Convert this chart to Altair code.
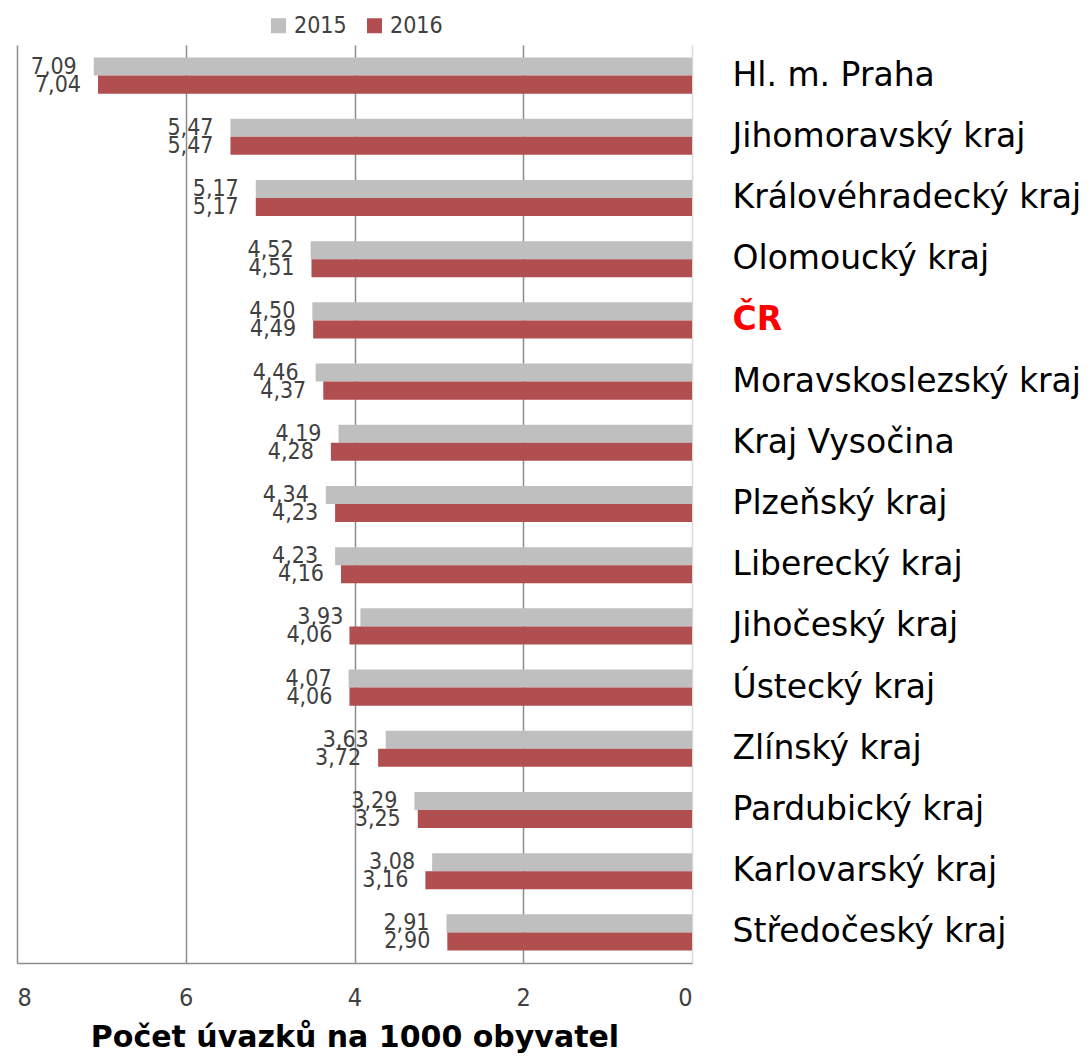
import altair as alt
import pandas as pd

regions = ["Hl. m. Praha", "Jihomoravský kraj", "Královéhradecký kraj", "Olomoucký kraj",
           "ČR", "Moravskoslezský kraj", "Kraj Vysočina", "Plzeňský kraj", "Liberecký kraj",
           "Jihočeský kraj", "Ústecký kraj", "Zlínský kraj", "Pardubický kraj",
           "Karlovarský kraj", "Středočeský kraj"]
v2015 = [7.09, 5.47, 5.17, 4.52, 4.50, 4.46, 4.19, 4.34, 4.23, 3.93, 4.07, 3.63, 3.29, 3.08, 2.91]
v2016 = [7.04, 5.47, 5.17, 4.51, 4.49, 4.37, 4.28, 4.23, 4.16, 4.06, 4.06, 3.72, 3.25, 3.16, 2.90]
years = ["2015", "2016"]
colors = ["#BFBFBF", "#B04E50"]

rows = []
for r, a, b in zip(regions, v2015, v2016):
    rows.append({"region": r, "year": years[0], "value": a})
    rows.append({"region": r, "year": years[1], "value": b})
df = pd.DataFrame(rows)

FONT = "DejaVu Sans"
COND = "DejaVu Sans Condensed"

y_enc = alt.Y("region:N", sort=regions,
              scale=alt.Scale(paddingInner=0.41, paddingOuter=0.205),
              axis=alt.Axis(orient="right", title=None, domain=False, ticks=False,
                            labelPadding=40, labelFontSize=33, labelFont=FONT,
                            labelColor={"condition": {"test": "datum.value === 'ČR'", "value": "#FF0000"}, "value": "#000000"},
                            labelFontWeight={"condition": {"test": "datum.value === 'ČR'", "value": "bold"}, "value": "normal"},
                            labelLimit=500))
yoff = alt.YOffset("year:N", sort=years, scale=alt.Scale(paddingInner=0, paddingOuter=0))
x_enc = alt.X("value:Q", scale=alt.Scale(domain=[0, 8], reverse=True, nice=False),
              axis=alt.Axis(values=[0, 2, 4, 6, 8], grid=True, tickSize=0, labelPadding=22,
                            labelFontSize=25, labelFont=COND, labelColor="#404040",
                            gridColor={"condition": {"test": "datum.value === 0", "value": "#D9D9D9"}, "value": "#8C8C8C"},
                            gridWidth=1.5, domainColor="#8C8C8C", domainWidth=1.5,
                            title="Počet úvazků na 1000 obyvatel", titleFontSize=30,
                            titleFont=FONT, titleFontWeight="bold", titleColor="#000000",
                            titlePadding=12, format="d"))

bars = alt.Chart(df).mark_bar().encode(
    x=x_enc, y=y_enc, yOffset=yoff,
    color=alt.Color("year:N", sort=years, scale=alt.Scale(domain=years, range=colors),
                    legend=alt.Legend(title=None, orient="none", direction="horizontal",
                                      legendX=250, legendY=-31, symbolType="square",
                                      symbolSize=225, symbolStrokeWidth=0, labelFontSize=23,
                                      labelFont=COND, labelColor="#404040", columnPadding=16,
                                      labelOffset=4))
)

text = alt.Chart(df).transform_calculate(
    label="replace(format(datum.value, '.2f'), '.', ',')"
).mark_text(align="right", baseline="middle", dx=-17, fontSize=23, font=COND,
            color="#404040").encode(
    x=alt.X("value:Q"), y=alt.Y("region:N", sort=regions), yOffset=alt.YOffset("year:N", sort=years),
    text="label:N"
)

chart = alt.layer(bars, text).properties(
    width=675, height=918,
    autosize=alt.AutoSizeParams(type="none"),
    padding={"left": 9, "top": 37, "right": 390, "bottom": 95}
).configure_view(stroke=None).configure_axis(labelOverlap=False)

chart.save("out.html", embed_options={"renderer": "svg", "actions": False})
